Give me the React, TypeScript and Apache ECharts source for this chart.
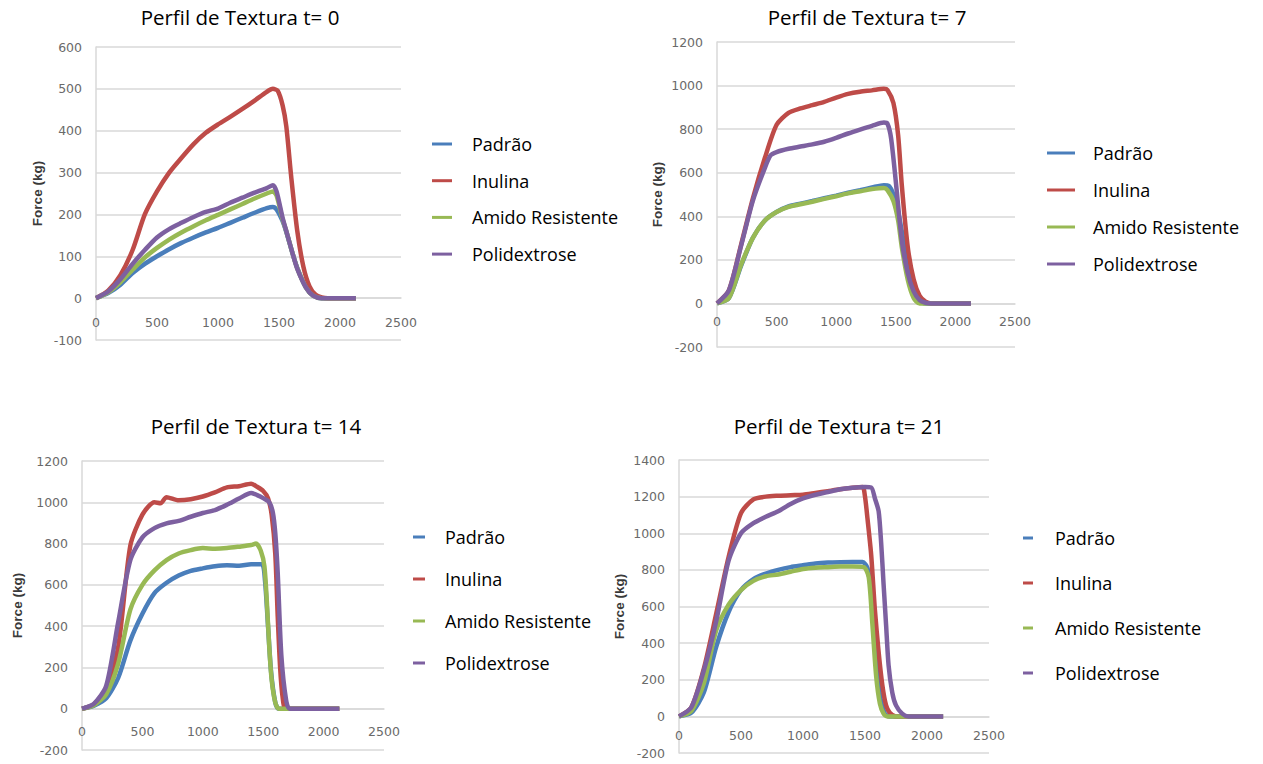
import React, { useEffect, useRef } from "react";
import * as echarts from "echarts";

const seriesNames = ["Padrão", "Inulina", "Amido Resistente", "Polidextrose"];
const colors = ["#4a7ebb", "#be4b48", "#98b954", "#7d60a0"];
const titles = ["Perfil de Textura t= 0", "Perfil de Textura t= 7", "Perfil de Textura t= 14", "Perfil de Textura t= 21"];
const xTicks = { min: 0, max: 2500, interval: 500 };
const yRanges = [
  { min: -100, max: 600, interval: 100 },
  { min: -200, max: 1200, interval: 200 },
  { min: -200, max: 1200, interval: 200 },
  { min: -200, max: 1400, interval: 200 },
];

// t = 0
const t0Padrao = [[0,0],[100,12],[200,32],[300,60],[400,82],[500,100],[600,117],[700,132],[800,145],[900,157],[1000,168],[1100,180],[1200,192],[1300,204],[1400,215],[1450,218],[1480,212],[1528,185],[1560,158],[1611,107],[1650,72],[1720,26],[1780,6],[1850,0],[2130,0]];
const t0Inulina = [[0,0],[100,18],[200,55],[300,115],[400,200],[500,255],[600,300],[700,335],[800,368],[900,395],[1000,415],[1100,433],[1200,452],[1300,472],[1400,493],[1450,500],[1490,495],[1530,460],[1560,410],[1600,290],[1650,160],[1700,75],[1750,28],[1800,8],[1850,2],[1900,0],[2130,0]];
const t0Amido = [[0,0],[100,14],[200,38],[300,68],[400,97],[500,120],[600,140],[700,157],[800,172],[900,186],[1000,199],[1100,212],[1200,225],[1300,238],[1400,250],[1450,255],[1480,245],[1528,190],[1560,160],[1611,107],[1650,71],[1720,26],[1780,6],[1850,0],[2130,0]];
const t0Poli = [[0,0],[100,16],[200,45],[300,82],[400,115],[500,145],[600,165],[700,180],[800,194],[900,206],[1000,214],[1100,228],[1200,240],[1300,252],[1400,263],[1450,270],[1480,255],[1528,194],[1560,160],[1611,107],[1650,70],[1720,26],[1780,6],[1850,0],[2130,0]];

// t = 7
const t7Padrao = [[0,0],[100,25],[200,170],[300,300],[400,380],[500,420],[600,445],[700,458],[800,470],[900,483],[1000,495],[1100,508],[1200,520],[1300,532],[1400,543],[1440,540],[1480,500],[1520,420],[1560,300],[1600,170],[1650,60],[1700,12],[1750,0],[2130,0]];
const t7Inulina = [[0,0],[100,60],[200,265],[300,480],[400,665],[500,820],[600,875],[700,895],[800,910],[900,925],[1000,945],[1100,962],[1200,972],[1300,978],[1400,985],[1430,980],[1480,920],[1520,770],[1550,545],[1600,260],[1650,110],[1700,35],[1750,8],[1800,0],[2130,0]];
const t7Amido = [[0,0],[100,25],[200,175],[300,300],[400,380],[500,420],[600,443],[700,455],[800,467],[900,480],[1000,492],[1100,505],[1200,515],[1300,525],[1400,530],[1430,520],[1480,470],[1520,380],[1550,260],[1600,110],[1650,25],[1700,0],[2130,0]];
const t7Poli = [[0,0],[100,60],[200,260],[300,470],[400,620],[450,680],[500,695],[600,710],[700,720],[800,730],[900,742],[1000,760],[1100,780],[1200,798],[1300,815],[1400,830],[1430,825],[1460,760],[1500,560],[1550,290],[1600,140],[1650,55],[1700,15],[1750,3],[1800,0],[2130,0]];

// t = 14
const t14Padrao = [[0,0],[100,15],[200,50],[300,150],[400,330],[500,460],[600,560],[700,610],[800,645],[900,668],[1000,680],[1100,690],[1200,695],[1300,693],[1400,700],[1490,700],[1515,620],[1540,400],[1565,180],[1600,30],[1630,0],[2130,0]];
const t14Inulina = [[0,0],[100,22],[200,100],[300,300],[400,790],[500,940],[600,1000],[650,995],[700,1025],[800,1010],[900,1015],[1000,1028],[1100,1048],[1200,1072],[1300,1078],[1400,1090],[1450,1075],[1500,1055],[1540,1020],[1570,940],[1600,750],[1620,450],[1640,200],[1660,60],[1690,0],[2130,0]];
const t14Amido = [[0,0],[100,18],[200,70],[300,220],[400,480],[500,600],[600,670],[700,720],[800,752],[900,768],[1000,778],[1100,775],[1200,778],[1300,785],[1400,793],[1440,800],[1480,765],[1510,690],[1530,520],[1550,300],[1570,140],[1600,30],[1630,0],[2130,0]];
const t14Poli = [[0,0],[100,25],[200,110],[300,420],[400,720],[500,830],[600,875],[700,898],[800,910],[900,930],[1000,948],[1100,962],[1200,988],[1300,1018],[1400,1045],[1450,1035],[1500,1020],[1550,1000],[1580,950],[1600,850],[1620,660],[1650,260],[1690,40],[1720,0],[2130,0]];

// t = 21
const t21Padrao = [[0,0],[100,20],[200,130],[300,380],[400,570],[500,690],[600,750],[700,780],[800,800],[900,815],[1000,825],[1100,835],[1200,840],[1300,842],[1400,843],[1480,843],[1520,810],[1560,620],[1590,350],[1620,120],[1660,15],[1700,0],[2130,0]];
const t21Inulina = [[0,0],[100,50],[200,260],[300,560],[400,870],[500,1110],[600,1185],[700,1200],[800,1205],[900,1208],[1000,1210],[1100,1220],[1200,1230],[1300,1240],[1400,1248],[1480,1252],[1500,1200],[1520,1080],[1550,880],[1580,580],[1610,350],[1640,170],[1670,60],[1700,20],[1750,0],[2130,0]];
const t21Amido = [[0,0],[100,30],[200,180],[300,470],[400,610],[500,690],[600,740],[700,765],[800,775],[900,790],[1000,805],[1100,812],[1200,815],[1300,818],[1400,818],[1490,815],[1530,760],[1560,500],[1590,220],[1620,70],[1650,15],[1680,0],[2130,0]];
const t21Poli = [[0,0],[100,50],[200,250],[300,520],[400,850],[500,1000],[600,1055],[700,1090],[800,1120],[900,1160],[1000,1190],[1100,1210],[1200,1225],[1300,1240],[1400,1248],[1500,1252],[1550,1250],[1580,1190],[1610,1120],[1630,950],[1650,720],[1670,500],[1690,280],[1720,130],[1750,60],[1800,15],[1850,0],[2130,0]];

const chartData = [
  [t0Padrao, t0Inulina, t0Amido, t0Poli],
  [t7Padrao, t7Inulina, t7Amido, t7Poli],
  [t14Padrao, t14Inulina, t14Amido, t14Poli],
  [t21Padrao, t21Inulina, t21Amido, t21Poli],
];

// layout (pixels)
const grids = [
  { left: 96, top: 47, width: 305, height: 293 },
  { left: 717, top: 42, width: 298, height: 305 },
  { left: 82, top: 461, width: 302, height: 289 },
  { left: 679, top: 460, width: 310, height: 293 },
];
const titlePos = [
  { x: 240, y: 6 },
  { x: 867, y: 6 },
  { x: 256, y: 415 },
  { x: 839, y: 415 },
];
const legendPos = [
  { left: 432, top: 134, w: 20, gap: 16.7, pad: 15 },
  { left: 1047, top: 143, w: 28, gap: 17, pad: 13 },
  { left: 413, top: 527, w: 12, gap: 22, pad: 15 },
  { left: 1023, top: 528, w: 10, gap: 25, pad: 17 },
];
const nameGaps = [52, 53, 58, 53];
const xLabelMargins = [18, 12, 16, 13];

const FONT = "'Open Sans', 'Noto Sans', sans-serif";
const TICK_FONT = "'DejaVu Sans', sans-serif";

export default function App() {
  const ref = useRef<HTMLDivElement>(null);
  useEffect(() => {
    if (!ref.current) return;
    const chart = echarts.init(ref.current, null, { renderer: "svg" });
    const option: any = {
      animation: false,
      backgroundColor: "#ffffff",
      title: titles.map((t, i) => ({
        text: t,
        left: titlePos[i].x,
        top: titlePos[i].y,
        textAlign: "center",
        padding: 0,
        textStyle: { fontSize: 20.5, fontWeight: "normal", color: "#000", fontFamily: FONT },
      })),
      legend: legendPos.map((l) => ({
        orient: "vertical",
        left: l.left,
        top: l.top,
        padding: 0,
        itemWidth: l.w,
        itemHeight: 3,
        itemGap: l.gap,
        icon: "rect",
        data: seriesNames,
        selectedMode: false,
        textStyle: { fontSize: 18, lineHeight: 20, color: "#000", fontFamily: FONT, padding: [0, 0, 0, l.pad] },
      })),
      grid: grids.map((g) => ({ ...g })),
      xAxis: grids.map((g, i) => ({
        type: "value",
        gridIndex: i,
        position: "bottom",
        // place the category labels along the zero line, as in the original
        offset: -(g.height * (0 - yRanges[i].min)) / (yRanges[i].max - yRanges[i].min),
        min: xTicks.min,
        max: xTicks.max,
        interval: xTicks.interval,
        splitLine: { show: false },
        axisLine: { show: true, onZero: false, lineStyle: { color: "#d9d9d9", width: 1.5 } },
        axisTick: { show: false },
        axisLabel: {
          color: "#6a6a6a",
          fontSize: 12.5,
          margin: xLabelMargins[i],
          fontFamily: TICK_FONT,
          formatter: (v: number) => String(v),
        },
      })),
      yAxis: grids.map((_, i) => ({
        type: "value",
        gridIndex: i,
        min: yRanges[i].min,
        max: yRanges[i].max,
        interval: yRanges[i].interval,
        name: "Force (kg)",
        nameLocation: "middle",
        nameGap: nameGaps[i],
        nameTextStyle: { fontSize: 13.5, fontWeight: "bold", color: "#3a3a3a", fontFamily: "'Liberation Sans', sans-serif" },
        splitLine: { show: true, lineStyle: { color: "#d9d9d9", width: 1.5 } },
        axisLine: { show: true, onZero: false, lineStyle: { color: "#d9d9d9", width: 1.5 } },
        axisTick: { show: false },
        axisLabel: {
          color: "#6a6a6a",
          fontSize: 12.5,
          margin: 14,
          fontFamily: TICK_FONT,
          formatter: (v: number) => String(v),
        },
      })),
      series: chartData.flatMap((set, i) =>
        set.map((data, k) => ({
          type: "line",
          name: seriesNames[k],
          xAxisIndex: i,
          yAxisIndex: i,
          data,
          showSymbol: false,
          smooth: 0.25,
          color: colors[k],
          lineStyle: { width: 4.5, color: colors[k] },
        }))
      ),
    };
    chart.setOption(option);
    return () => chart.dispose();
  }, []);
  return <div ref={ref} style={{ position: "absolute", left: 0, top: 0, width: 1263, height: 764 }} />;
}
